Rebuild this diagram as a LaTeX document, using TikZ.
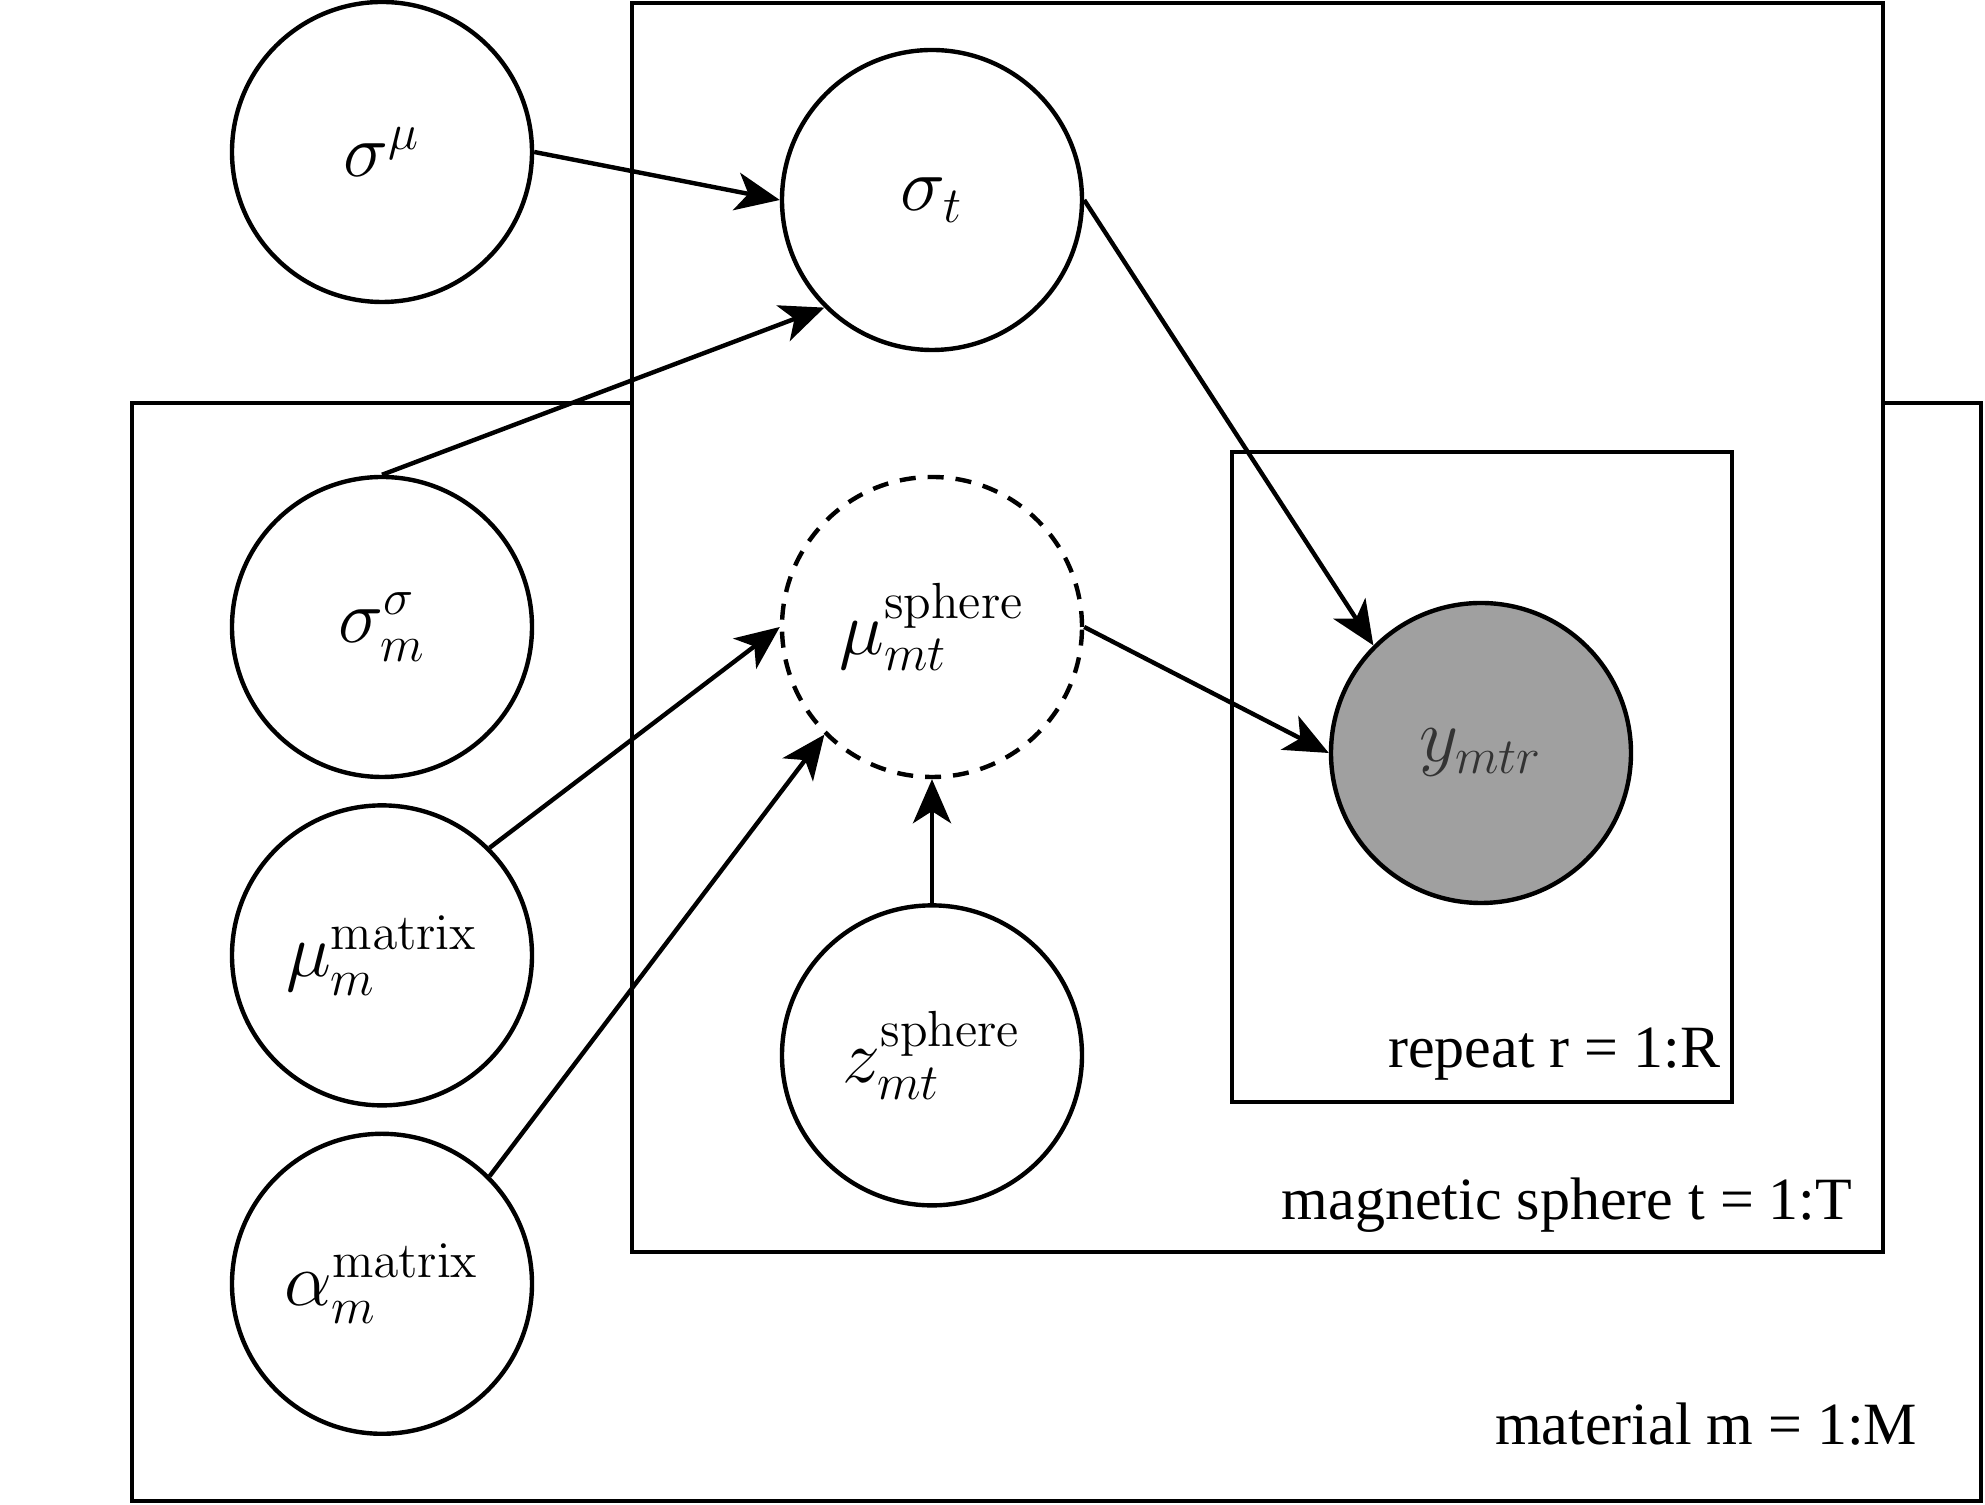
\RequirePackage{fix-cm}
\documentclass[tikz,border=0pt]{standalone}
\usepackage{amsmath}
\usepackage[no-math]{fontspec}
\setmainfont{Liberation Serif}
\usepackage{tikz}
\usetikzlibrary{arrows.meta,positioning}
\definecolor{obsgray}{HTML}{A0A0A0}
\DeclareMathSizes{19}{19}{12.7}{9.5}

\begin{document}
\begin{tikzpicture}[
    x=0.25pt, y=-0.25pt,
    node distance=6pt,
    var/.style={
        draw,
        circle,
        line width=1.1pt,
        minimum size=75pt,
        inner sep=0pt,
        fill=white,
        font=\fontsize{19}{23}\selectfont
    },
    latent/.style={var, dash pattern=on 4pt off 3pt},
    obs/.style={var, fill=obsgray, text=black!80},
    plate/.style={draw, line width=1.1pt},
    platelabel/.style={
        anchor=base east,
        inner sep=0pt,
        font=\fontsize{15}{18}\selectfont
    },
    >={Stealth[length=11pt, width=9.5pt, inset=3pt]}
]
\useasboundingbox (0,0) rectangle (1985,1505);

% plates
\draw[plate] (132,403) rectangle (1981,1501);
\draw[plate, fill=white] (632,3) rectangle (1883,1252);
\draw[plate] (1232,452) rectangle (1732,1102);

\node[platelabel] (replab) at (1721,1068) {repeat r = 1:R};
\node[platelabel] (sphlab) at (1853,1220) {magnetic sphere t = 1:T};
\node[platelabel] (matlab) at (1918,1445) {material m = 1:M};

% variables
\node[var] (smu) at (382,152) {$\sigma^{\mu}$};
\node[var] (st) at (932,200) {$\sigma_t$};
\node[var] (ssig) at (382,627) {$\sigma^{\sigma}_{m}$};
\node[var, below=of ssig] (mumat) {$\mu^{\mathrm{matrix}}_{m}$};
\node[var, below=of mumat] (alpha) {$\alpha^{\mathrm{matrix}}_{m}$};
\node[latent] (musph) at (932,627) {$\mu^{\mathrm{sphere}}_{mt}$};
\node[var, below=31pt of musph] (zsph) {$z^{\mathrm{sphere}}_{mt}$};
\node[obs] (y) at (1481,753) {$y_{mtr}$};

\draw[->, line width=1.1pt] (smu.east) -- (st.west);
\draw[->, line width=1.1pt] (ssig.north) -- (st.south west);
\draw[->, line width=1.1pt] (mumat.north east) -- (musph.west);
\draw[->, line width=1.1pt] (alpha.north east) -- (musph.south west);
\draw[->, line width=1.1pt] (zsph.north) -- (musph.south);
\draw[->, line width=1.1pt] (st.east) -- (y.north west);
\draw[->, line width=1.1pt] (musph.east) -- (y.west);

\end{tikzpicture}
\end{document}
